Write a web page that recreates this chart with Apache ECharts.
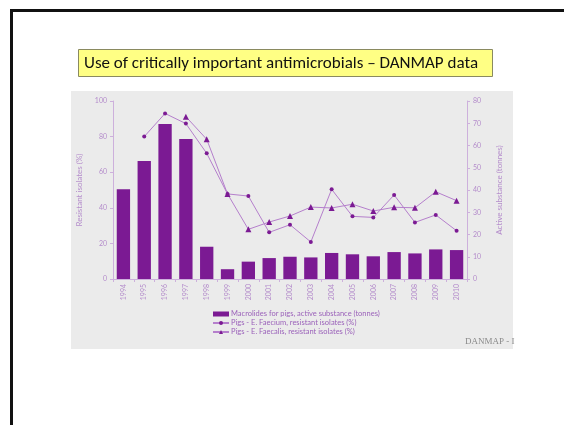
<!DOCTYPE html>
<html>
<head>
<meta charset="utf-8">
<script src="https://cdn.jsdelivr.net/npm/echarts@6/dist/echarts.min.js"></script>
<style>
html,body{margin:0;padding:0;background:#fff;overflow:hidden;}
#c{width:564px;height:425px;}
</style>
</head>
<body>
<div id="c"></div>
<script>
const years = ['1994','1995','1996','1997','1998','1999','2000','2001','2002','2003','2004','2005','2006','2007','2008','2009','2010'];
const macrolidesTonnes = [40.3, 53, 69.7, 62.9, 14.5, 4.4, 7.8, 9.4, 10.0, 9.7, 11.7, 11.1, 10.2, 12.1, 11.5, 13.3, 13.0];
const faeciumPct = [null, 80, 93, 87.3, 70.6, 47.8, 46.6, 26.2, 30.5, 20.8, 50.4, 35.2, 34.6, 47.2, 31.8, 36, 27.1];
const faecalisPct = [null, null, null, 91.2, 78.5, 47.8, 27.9, 32, 35.4, 40.4, 39.9, 42, 38.2, 40.3, 40, 49, 44];
const seriesNames = ['Macrolides for pigs, active substance (tonnes)', 'Pigs - E. Faecium, resistant isolates (%)', 'Pigs - E. Faecalis, resistant isolates (%)'];
const leftTicks = {min: 0, max: 100, interval: 20};
const rightTicks = {min: 0, max: 80, interval: 10};
const titleText = 'Use of critically important antimicrobials \u2013 DANMAP data';

const barColor = '#7B1A93';
const lineColor = '#B57FCC';
const axisText = '#B48CCB';
const axisLine = '#CDB0DC';

const chart = echarts.init(document.getElementById('c'), null, {renderer: 'canvas'});
chart.setOption({
  animation: false,
  backgroundColor: '#ffffff',
  textStyle: {fontFamily: 'Lato, "Open Sans", sans-serif'},
  graphic: [
    {type: 'rect', z: -10, shape: {x: 71, y: 91, width: 442, height: 258}, style: {fill: '#EBEBEB'}},
    {type: 'rect', shape: {x: 10, y: 9, width: 554, height: 3}, style: {fill: '#111'}},
    {type: 'rect', shape: {x: 10, y: 9, width: 3, height: 416}, style: {fill: '#111'}},
    {type: 'rect', shape: {x: 78.5, y: 49.5, width: 414, height: 27}, style: {fill: '#FFFF84', stroke: '#8a8a60', lineWidth: 1}},
    {type: 'text', x: 84, y: 63.5, style: {text: titleText, fill: '#111', font: '17px Carlito, Lato, sans-serif', textVerticalAlign: 'middle'}},
    {type: 'text', x: 465, y: 342, style: {text: 'DANMAP - I', fill: '#8a8a8a', font: '9px "Liberation Serif", "DejaVu Serif", serif', textVerticalAlign: 'middle'}}
  ],
  grid: {left: 113, right: 97, top: 101, bottom: 146, containLabel: false},
  legend: {
    orient: 'vertical', left: 207, top: 305, itemGap: 1, itemWidth: 16, itemHeight: 5,
    textStyle: {fontSize: 7.5, color: '#9B62BA', padding: [0, 0, 0, -3]},
    data: [
      {name: seriesNames[0], icon: 'rect'},
      {name: seriesNames[1]},
      {name: seriesNames[2]}
    ]
  },
  xAxis: {
    type: 'category', data: years,
    axisLine: {lineStyle: {color: axisLine}},
    axisTick: {show: true, lineStyle: {color: axisLine}, length: 3},
    axisLabel: {rotate: 90, fontSize: 7, color: axisText, margin: 5}
  },
  yAxis: [
    {
      type: 'value', min: leftTicks.min, max: leftTicks.max, interval: leftTicks.interval,
      name: 'Resistant isolates (%)', nameLocation: 'middle', nameRotate: 90, nameGap: 21,
      nameTextStyle: {fontSize: 8, color: axisText},
      axisLine: {show: true, lineStyle: {color: axisLine}},
      axisTick: {show: true, length: 3, lineStyle: {color: axisLine}},
      axisLabel: {fontSize: 7, color: axisText, margin: 6},
      splitLine: {show: false}
    },
    {
      type: 'value', position: 'right', min: rightTicks.min, max: rightTicks.max, interval: rightTicks.interval,
      name: 'Active substance (tonnes)', nameLocation: 'middle', nameRotate: 90, nameGap: 28,
      nameTextStyle: {fontSize: 8, color: axisText},
      axisLine: {show: true, lineStyle: {color: axisLine}},
      axisTick: {show: true, length: 3, lineStyle: {color: axisLine}},
      axisLabel: {fontSize: 7, color: axisText, margin: 6},
      splitLine: {show: false}
    }
  ],
  series: [
    {name: seriesNames[0], type: 'bar', yAxisIndex: 1, data: macrolidesTonnes, barWidth: '64%', itemStyle: {color: barColor}},
    {name: seriesNames[1], type: 'line', yAxisIndex: 0, data: faeciumPct, symbol: 'circle', symbolSize: 4,
      lineStyle: {color: lineColor, width: 1}, itemStyle: {color: barColor}},
    {name: seriesNames[2], type: 'line', yAxisIndex: 0, data: faecalisPct, symbol: 'triangle', symbolSize: 6,
      lineStyle: {color: lineColor, width: 1}, itemStyle: {color: barColor}}
  ]
});
</script>
</body>
</html>
